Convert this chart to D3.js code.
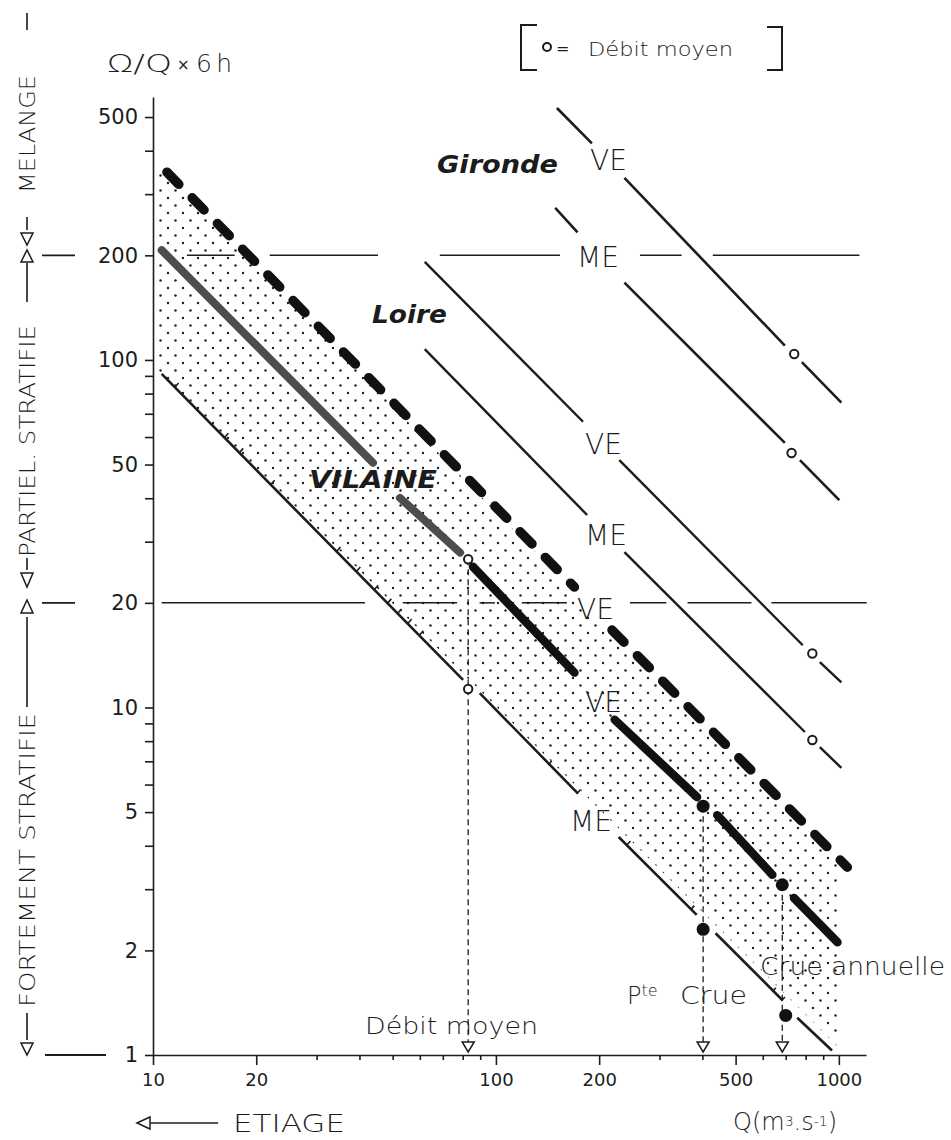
<!DOCTYPE html>
<html>
<head>
<meta charset="utf-8">
<script src="https://cdn.jsdelivr.net/npm/d3@7"></script>
<style>
  body { margin: 0; background: #fff; }
  svg text { font-family: "DejaVu Sans", "Lato", sans-serif; fill: #1c1c1c; }
  svg text.light { font-weight: 200; }
  .axis path, .axis line { stroke: #1c1c1c; stroke-width: 1.6; }
  .axis text { font-family: "DejaVu Sans", "Lato", sans-serif; fill: #1c1c1c; }
</style>
</head>
<body>
<svg id="chart" width="951" height="1140"></svg>
<script>
// axis ticks
const xTickValues = [10, 20, 100, 200, 500, 1000];
const xMinorTicks = [30, 40, 50, 60, 70, 80, 90, 300, 400, 600, 700, 800, 900];
const yTickValues = [1, 2, 5, 10, 20, 50, 100, 200, 500];
const yMinorTicks = [3, 4, 6, 7, 8, 9, 30, 40, 60, 70, 80, 90, 300, 400];

// every line is a list of visible pieces : [[Q, Ω/Q], [Q, Ω/Q]]
const vilaineVE = [ [[10.98, 347], [169.4, 22.2]], [[218, 16.7], [1059, 3.47]] ];
const vilaineGrey = [ [[10.6, 207], [43.8, 50.6]], [[52.5, 40.1], [78.6, 27.9]] ];
const vilaineBlack = [ [[85.7, 25.4], [169.4, 12.6]], [[222, 9.22], [386, 5.52]],
                       [[442, 4.90], [640, 3.30]], [[740, 2.83], [991, 2.11]] ];
const vilaineME = [ [[10.6, 91.2], [80.2, 12.0]], [[89.7, 11.0], [173, 5.67]], [[228, 4.24], [385, 2.53]],
                    [[437, 2.24], [684, 1.44]], [[756, 1.28], [955, 1.03]] ];
const loireVE = [ [[62.0, 191.6], [179.5, 66.4]], [[229, 51.5], [785, 15.1]], [[880, 13.5], [1017, 11.8]] ];
const loireME = [ [[62.0, 107.4], [184.5, 35.8]], [[237, 28.0], [796, 8.50]], [[880, 7.69], [1017, 6.70]] ];
const girondeVE = [ [[150.6, 531], [190.5, 420]], [[237, 334], [696, 110]], [[780, 98.6], [1017, 75.4]] ];
const girondeME = [ [[148.9, 274], [173, 233]], [[237, 167], [696, 57.7]], [[770, 51.5], [1003, 39.5]] ];

// hatch marks sitting on the lower Vilaine line
const hatchMarks = [[11.6, 83.6], [16.2, 59.9], [17.9, 54.2], [22.1, 43.9], [34.4, 28.2], [39.3, 24.7],
                    [44.3, 21.9], [48.4, 20.0], [51.8, 18.7], [55.5, 17.5], [60.0, 16.2], [142, 6.83],
                    [172, 5.64], [241, 4.02], [370, 2.62], [640, 1.52], [680, 1.43]];

// stippled band of the Vilaine
const stippleArea = [[10.2, 365], [1000, 3.6], [1000, 1.05], [10.2, 95]];

// débit moyen (open) and crue (filled) points
const debitMoyen = [[83, 26.7], [83, 11.3], [837, 14.3], [837, 8.06], [741, 104], [728, 54]];
const cruePoints = [[402, 5.2], [402, 2.30], [684, 3.09], [700, 1.30]];
// dashed drop lines down to the Q axis
const dropLines = [[83, 26.7], [402, 5.2], [684, 3.09]];

// regime limits, pieces given in Q
const limit200 = [[12.56, 17.3], [21.9, 45.3], [68.6, 153.7], [263, 348], [429, 1148]];
const limit20 = [[10.6, 41.5], [53.5, 77.0], [89.6, 99.3], [119, 161], [246, 314], [362, 556], [636, 1206]];

const svg = d3.select("#chart");
const ink = "#1c1c1c";

const x = d3.scaleLog().domain([10, 1200]).range([153, 866]);
const y = d3.scaleLog().domain([1, 571]).range([1055, 97]);

// stipple pattern
const defs = svg.append("defs");
const pat = defs.append("pattern")
    .attr("id", "stipple")
    .attr("width", 15).attr("height", 15)
    .attr("patternUnits", "userSpaceOnUse");
pat.append("circle").attr("cx", 3).attr("cy", 3).attr("r", 1.2).attr("fill", ink);
pat.append("circle").attr("cx", 10.5).attr("cy", 10.5).attr("r", 1.2).attr("fill", ink);

svg.append("path")
    .attr("d", d3.line().x(d => x(d[0])).y(d => y(d[1]))(stippleArea) + "Z")
    .attr("fill", "url(#stipple)");

// axes
const xAxis = svg.append("g")
    .attr("class", "axis")
    .attr("transform", `translate(0, ${y(1)})`)
    .call(d3.axisBottom(x).tickValues(xTickValues).tickSize(10).tickSizeOuter(0).tickPadding(8)
        .tickFormat(d3.format("d")));
xAxis.selectAll("text").attr("font-size", 18);

svg.append("g")
    .attr("class", "axis")
    .attr("transform", `translate(0, ${y(1)})`)
    .call(d3.axisBottom(x).tickValues(xMinorTicks).tickSize(5).tickSizeOuter(0).tickFormat(""))
    .select(".domain").remove();

const yAxis = svg.append("g")
    .attr("class", "axis")
    .attr("transform", `translate(${x(10)}, 0)`)
    .call(d3.axisLeft(y).tickValues(yTickValues).tickSize(8).tickSizeOuter(0).tickPadding(7)
        .tickFormat(d3.format("d")));
yAxis.selectAll("text").attr("font-size", 21);

svg.append("g")
    .attr("class", "axis")
    .attr("transform", `translate(${x(10)}, 0)`)
    .call(d3.axisLeft(y).tickValues(yMinorTicks).tickSize(8).tickSizeOuter(0).tickFormat(""))
    .select(".domain").remove();

// regime limit lines
function drawLimit(pieces, val) {
    svg.append("g").selectAll("line")
        .data(pieces)
        .join("line")
        .attr("x1", d => x(d[0])).attr("x2", d => x(d[1]))
        .attr("y1", y(val)).attr("y2", y(val))
        .attr("stroke", ink).attr("stroke-width", 1.5);
}
drawLimit(limit200, 200);
drawLimit(limit20, 20);

// drop lines
svg.append("g").selectAll("line")
    .data(dropLines)
    .join("line")
    .attr("x1", d => x(d[0])).attr("x2", d => x(d[0]))
    .attr("y1", d => y(d[1])).attr("y2", y(1.08))
    .attr("stroke", ink).attr("stroke-width", 1.3)
    .attr("stroke-dasharray", "6,4");

svg.append("g").selectAll("path")
    .data(dropLines)
    .join("path")
    .attr("d", d => {
        let cx = x(d[0]), by = y(1) - 3;
        return `M${cx - 6},${by - 10} L${cx + 6},${by - 10} L${cx},${by} Z`;
    })
    .attr("fill", "#fff").attr("stroke", ink).attr("stroke-width", 1.5);

// river lines
function drawSegments(segs, width, color, dash, cap) {
    svg.append("g").selectAll("line")
        .data(segs)
        .join("line")
        .attr("x1", d => x(d[0][0])).attr("y1", d => y(d[0][1]))
        .attr("x2", d => x(d[1][0])).attr("y2", d => y(d[1][1]))
        .attr("stroke", color)
        .attr("stroke-width", width)
        .attr("stroke-linecap", cap)
        .attr("stroke-dasharray", dash);
}
drawSegments(girondeVE, 2.6, ink, null, "butt");
drawSegments(girondeME, 2.6, ink, null, "butt");
drawSegments(loireVE, 2.4, ink, null, "butt");
drawSegments(loireME, 2.4, ink, null, "butt");
drawSegments(vilaineME, 2.6, ink, null, "butt");
drawSegments(vilaineGrey, 8, "#4d4d4d", null, "round");
drawSegments(vilaineBlack, 8.5, "#111", null, "round");
drawSegments(vilaineVE, 9.5, "#111", "17,19", "round");

// hatch marks on the lower line
svg.append("g").selectAll("line")
    .data(hatchMarks)
    .join("line")
    .attr("x1", d => x(d[0])).attr("y1", d => y(d[1]))
    .attr("x2", d => x(d[0]) + 3.5).attr("y2", d => y(d[1]) - 4)
    .attr("stroke", ink).attr("stroke-width", 1.6);

// débit moyen circles and crue dots
svg.append("g").selectAll("circle")
    .data(debitMoyen)
    .join("circle")
    .attr("cx", d => x(d[0])).attr("cy", d => y(d[1]))
    .attr("r", 4.2)
    .attr("fill", "#fff").attr("stroke", ink).attr("stroke-width", 2);

svg.append("g").selectAll("circle")
    .data(cruePoints)
    .join("circle")
    .attr("cx", d => x(d[0])).attr("cy", d => y(d[1]))
    .attr("r", 6.5)
    .attr("fill", "#111");

// VE / ME tags on the lines
const tags = [
    { t: "VE", px: 590, py: 170 }, { t: "ME", px: 577, py: 267 },
    { t: "VE", px: 585, py: 454 }, { t: "ME", px: 585, py: 545 },
    { t: "VE", px: 577, py: 619 }, { t: "VE", px: 585, py: 712 },
    { t: "ME", px: 570, py: 831 }
];
svg.append("g").selectAll("text")
    .data(tags)
    .join("text")
    .attr("class", "light")
    .attr("x", d => d.px).attr("y", d => d.py)
    .attr("font-size", 28)
    .attr("textLength", d => d.t === "VE" ? 37 : 42).attr("lengthAdjust", "spacingAndGlyphs")
    .text(d => d.t);

// river names
const rivers = [
    { t: "Gironde", px: 437, py: 173, w: 121 },
    { t: "Loire", px: 372, py: 323, w: 75 },
    { t: "VILAINE", px: 309, py: 488, w: 128 }
];
svg.append("g").selectAll("text")
    .data(rivers)
    .join("text")
    .attr("x", d => d.px).attr("y", d => d.py)
    .attr("font-size", 24).attr("font-weight", 700).attr("font-style", "italic")
    .attr("textLength", d => d.w).attr("lengthAdjust", "spacingAndGlyphs")
    .text(d => d.t);

// y title
svg.append("text").attr("class", "light").attr("x", 107).attr("y", 72).attr("font-size", 25)
    .attr("textLength", 65).attr("lengthAdjust", "spacingAndGlyphs").text("Ω/Q");
svg.append("text").attr("x", 177).attr("y", 70).attr("font-size", 15).text("×");
svg.append("text").attr("class", "light").attr("x", 196).attr("y", 72).attr("font-size", 25)
    .attr("textLength", 36).attr("lengthAdjust", "spacing").text("6 h");

// legend
svg.append("path").attr("d", "M537,25 H521 V70 H537").attr("fill", "none").attr("stroke", ink).attr("stroke-width", 2);
svg.append("path").attr("d", "M767,27 H782 V70 H767").attr("fill", "none").attr("stroke", ink).attr("stroke-width", 2);
svg.append("circle").attr("cx", 547).attr("cy", 47).attr("r", 4).attr("fill", "#fff").attr("stroke", ink).attr("stroke-width", 2);
svg.append("text").attr("x", 556).attr("y", 54).attr("font-size", 16).text("=");
svg.append("text").attr("class", "light").attr("x", 588).attr("y", 56).attr("font-size", 20)
    .attr("textLength", 145).attr("lengthAdjust", "spacingAndGlyphs").text("Débit moyen");

// annotations at the foot
svg.append("text").attr("class", "light").attr("x", 365).attr("y", 1034).attr("font-size", 23)
    .attr("textLength", 173).attr("lengthAdjust", "spacingAndGlyphs").text("Débit moyen");
const pte = svg.append("text").attr("class", "light").attr("x", 627).attr("y", 1004).attr("font-size", 24);
pte.append("tspan").text("P");
pte.append("tspan").attr("font-size", 16).attr("dy", -8).text("te");
pte.append("tspan").attr("x", 680).attr("dy", 8).attr("textLength", 67).attr("lengthAdjust", "spacingAndGlyphs").text("Crue");
svg.append("text").attr("class", "light").attr("x", 760).attr("y", 975).attr("font-size", 24)
    .attr("textLength", 185).attr("lengthAdjust", "spacingAndGlyphs").text("Crue annuelle");

// x title
const qt = svg.append("text").attr("class", "light").attr("x", 733).attr("y", 1130).attr("font-size", 24);
qt.append("tspan").text("Q(m");
qt.append("tspan").attr("font-size", 14).attr("dy", -4).text("3");
qt.append("tspan").attr("dy", 4).text(".s");
qt.append("tspan").attr("font-size", 14).attr("dy", -4).text("-1");
qt.append("tspan").attr("dy", 4).text(")");

// étiage arrow
svg.append("path").attr("d", "M137,1123 L150,1117 L150,1129 Z").attr("fill", "none").attr("stroke", ink).attr("stroke-width", 1.5);
svg.append("line").attr("x1", 150).attr("x2", 218).attr("y1", 1123).attr("y2", 1123).attr("stroke", ink).attr("stroke-width", 1.6);
svg.append("text").attr("class", "light").attr("x", 233).attr("y", 1132).attr("font-size", 25)
    .attr("textLength", 112).attr("lengthAdjust", "spacingAndGlyphs").text("ETIAGE");

// left column : mixing regimes
const side = svg.append("g");
[[200, 42, 75], [20, 42, 75], [1, 45, 106]].forEach(d => {
    side.append("line").attr("x1", d[1]).attr("x2", d[2]).attr("y1", y(d[0])).attr("y2", y(d[0]))
        .attr("stroke", ink).attr("stroke-width", 1.8);
});
// dashes of the rotated legend [from, to] in screen y
[[1013, 1040], [617, 707], [558, 570], [263, 302], [217, 230], [13, 30]].forEach(d => {
    side.append("line").attr("x1", 27).attr("x2", 27).attr("y1", d[0]).attr("y2", d[1])
        .attr("stroke", ink).attr("stroke-width", 1.6);
});
// triangles [base y, apex y]
[[1043, 1055], [613, 600], [573, 587], [262, 250], [233, 245]].forEach(d => {
    side.append("path").attr("d", `M21,${d[0]} L33,${d[0]} L27,${d[1]} Z`)
        .attr("fill", "none").attr("stroke", ink).attr("stroke-width", 1.5);
});
const sideWords = [
    { t: "FORTEMENT STRATIFIE", from: 1007, to: 713 },
    { t: "PARTIEL. STRATIFIE", from: 557, to: 325 },
    { t: "MELANGE", from: 193, to: 75 }
];
side.selectAll("text")
    .data(sideWords)
    .join("text")
    .attr("class", "light")
    .attr("transform", "rotate(-90)")
    .attr("x", d => -d.from).attr("y", 35)
    .attr("font-size", 22)
    .attr("textLength", d => d.from - d.to).attr("lengthAdjust", "spacingAndGlyphs")
    .text(d => d.t);
</script>
</body>
</html>
